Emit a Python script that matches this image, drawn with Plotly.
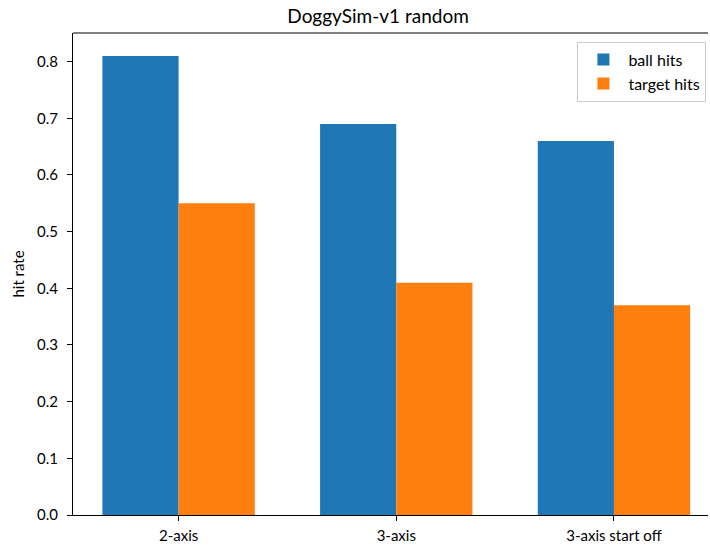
import plotly.graph_objects as go

categories = ["2-axis", "3-axis", "3-axis start off"]
ball_hits = [0.81, 0.69, 0.66]
target_hits = [0.55, 0.41, 0.37]
y_ticks = [0.0, 0.1, 0.2, 0.3, 0.4, 0.5, 0.6, 0.7, 0.8]

FONT = "Lato"

fig = go.Figure()
fig.add_trace(go.Bar(x=categories, y=ball_hits, name="ball hits",
                     marker=dict(color="#1f77b4", line=dict(width=0))))
fig.add_trace(go.Bar(x=categories, y=target_hits, name="target hits",
                     marker=dict(color="#ff7f0e", line=dict(width=0))))

fig.update_layout(
    width=710, height=545,
    margin=dict(l=73, r=2, t=33, b=30),
    paper_bgcolor="white", plot_bgcolor="white",
    barmode="group", bargap=0.3, bargroupgap=0,
    font=dict(family=FONT, size=15, color="black"),
    title=dict(text="DoggySim-v1 random", x=0.5325, xanchor="center",
               y=1 - 16 / 545, yanchor="middle", font=dict(size=19)),
    showlegend=True,
    legend=dict(x=0.9975, xanchor="right", y=0.982, yanchor="top",
                bgcolor="rgba(255,255,255,0.8)", bordercolor="#cccccc",
                borderwidth=1, font=dict(size=16), tracegroupgap=2,
                itemwidth=40),
    xaxis=dict(range=[-0.485, 2.432], showline=True, linecolor="black",
               linewidth=1.2, ticks="outside", ticklen=5, tickcolor="black",
               showgrid=False, zeroline=False, tickfont=dict(size=15),
               ticklabelstandoff=2),
    yaxis=dict(range=[0, 0.8505], tickvals=y_ticks,
               ticktext=[f"{v:.1f}" for v in y_ticks], showline=True,
               linecolor="black", linewidth=1.2, ticks="outside", ticklen=5,
               tickcolor="black", showgrid=False, zeroline=False,
               ticklabelstandoff=6,
               title=dict(text="hit rate", standoff=8, font=dict(size=15)),
               tickfont=dict(size=15)),
    shapes=[dict(type="line", xref="paper", yref="paper", x0=0, x1=1,
                 y0=1, y1=1, line=dict(color="black", width=1.2))],
)

fig.write_html("out.html")
